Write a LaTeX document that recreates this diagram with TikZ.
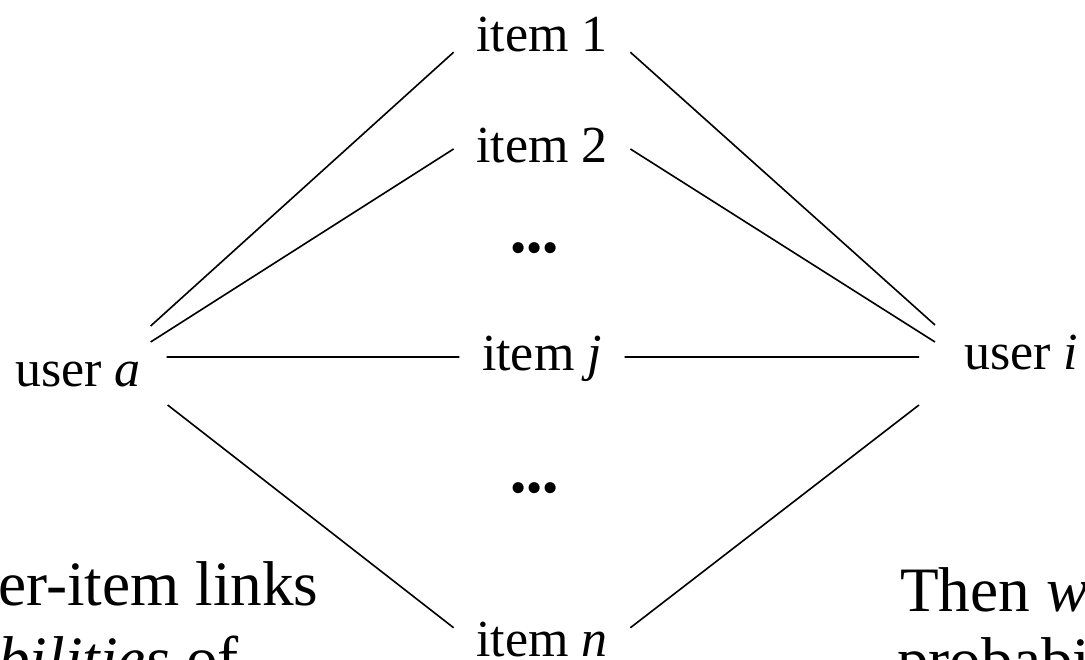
\documentclass[tikz,border=0pt]{standalone}
\usepackage{fontspec}
\setmainfont{Liberation Serif}
\tikzset{
  item/.style={anchor=base, inner xsep=0.56cm, inner ysep=0pt, text height=0.7cm, text depth=0pt, font=\fontsize{37}{44}\selectfont},
  user/.style={anchor=base west, inner sep=0pt, font=\fontsize{37}{44}\selectfont},
  gap/.style={anchor=base, inner sep=0pt, font=\fontsize{33}{40}\selectfont},
  note/.style={anchor=base west, inner sep=0pt, font=\fontsize{45}{54}\selectfont},
  link/.style={line width=1.15pt}
}
\begin{document}
\begin{tikzpicture}[line join=round]
\useasboundingbox (0,0) rectangle (27.125,16.475);
\clip (0,0) rectangle (27.125,16.475);

%Items
\node[item] (it1) at (13.55,15.175) {item 1};
\node[item] (it2) at (13.55,12.4) {item 2};
\node[gap] (dotsa) at (13.37,9.875) {•••};
\node[item] (itj) at (13.55,7.2) {item \textit{j}};
\node[gap] (dotsb) at (13.37,3.875) {•••};
\node[item] (itn) at (13.55,0.075) {item \textit{n}};

%Users
\node[user] (ua) at (0.375,6.8) {user \textit{a}};
\node[user] (ui) at (24.1,7.225) {user \textit{i}};

%Links
\draw[link] ([xshift=0.235cm,yshift=1.525cm]ua.base east) -- (it1.south west);
\draw[link] ([xshift=0.235cm,yshift=1.125cm]ua.base east) -- (it2.west);
\draw[link] ([xshift=0.635cm,yshift=0.75cm]ua.base east) -- (itj.west);
\draw[link] ([xshift=0.66cm,yshift=-0.45cm]ua.base east) -- (itn.north west);
\draw[link] (it1.south east) -- ([xshift=-0.725cm,yshift=1.125cm]ui.base west);
\draw[link] (it2.east) -- ([xshift=-0.725cm,yshift=0.7cm]ui.base west);
\draw[link] (itj.east) -- ([xshift=-1.125cm,yshift=0.325cm]ui.base west);
\draw[link] (itn.north east) -- ([xshift=-1.125cm,yshift=-0.875cm]ui.base west);

%Text
\node[note] (na) at (-0.05,1.35) {er-item links};
\node[note] (nb) at (-0.05,-0.525) {\textit{bilities} of};
\node[note] (nc) at (22.5,1.175) {Then \textit{w}};
\node[note] (nd) at (22.425,-0.55) {probabi};

\end{tikzpicture}
\end{document}
